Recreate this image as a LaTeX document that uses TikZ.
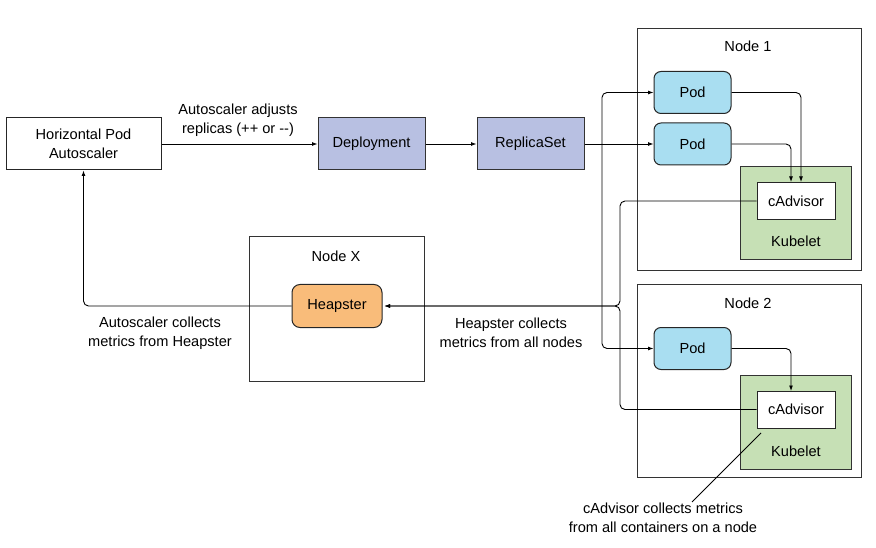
\documentclass[tikz,border=0pt]{standalone}
\usepackage{fontspec}
\setmainfont{Liberation Sans}
\usetikzlibrary{arrows.meta}
\definecolor{deplc}{HTML}{B8C0E2}
\definecolor{podc}{HTML}{A9DEF1}
\definecolor{heapc}{HTML}{F9BC7A}
\definecolor{kubec}{HTML}{C6E0B5}
\definecolor{edgec}{HTML}{333333}
\begin{document}
\begin{tikzpicture}[x=1pt,y=-1pt,
  every node/.style={font=\fontsize{14.6}{18.5}\selectfont, align=center, inner sep=0pt},
  frame/.style={draw=black!80, line width=1pt},
  podbox/.style={draw=black!85, line width=1pt, fill=podc, rounded corners=7pt, minimum width=77pt, minimum height=42pt},
  conn/.style={line width=0.9pt, rounded corners=5pt},
  arr/.style={conn, -{Latex[length=5.5pt,width=4pt]}}
]
\useasboundingbox (0,0) rectangle (876,548);
% containers
\draw[frame] (637,29) rectangle (861,271);
\draw[frame] (637,285) rectangle (861,477);
\draw[frame] (249,237) rectangle (424,381);
\node (n1) at (748,46) {Node 1};
\node (n2) at (748,303) {Node 2};
\node (nx) at (336,256) {Node X};
% kubelets
\draw[draw=black!80, line width=1pt, fill=kubec] (740,167) rectangle (851,260);
\draw[draw=black!80, line width=1pt, fill=kubec] (740,375) rectangle (851,469);
\node (k1) at (796,241) {Kubelet};
\node (k2) at (796,451) {Kubelet};
\node[draw=black!85, line width=1pt, fill=white, minimum width=78pt, minimum height=37pt] (ca1) at (796,201) {cAdvisor};
\node[draw=black!85, line width=1pt, fill=white, minimum width=78pt, minimum height=37pt] (ca2) at (796,409.5) {cAdvisor};
% main boxes
\node[draw=black!85, line width=1pt, fill=white, minimum width=155pt, minimum height=52pt] (hpa) at (83.5,144) {Horizontal Pod\\Autoscaler};
\node[draw=edgec, line width=1pt, fill=deplc, minimum width=107pt, minimum height=52pt] (dep) at (371.5,144) {Deployment};
\node[draw=edgec, line width=1pt, fill=deplc, minimum width=107pt, minimum height=52pt] (rs) at (530.5,144) {ReplicaSet};
\node[podbox] (p1) at (692.5,92.5) {Pod};
\node[podbox] (p2) at (692.5,144) {Pod};
\node[podbox] (p3) at (692.5,348.5) {Pod};
\node[draw=black!85, line width=1pt, fill=heapc, rounded corners=8pt, minimum width=90pt, minimum height=43pt] (hp) at (337,306) {Heapster};
% labels
\node (l1) at (238,120) {Autoscaler adjusts\\replicas (++ or {-}{-})};
\node (l2) at (160,333) {Autoscaler collects\\metrics from Heapster};
\node (l3) at (511,333) {Heapster collects\\metrics from all nodes};
\node (l4) at (663,518) {cAdvisor collects metrics\\from all containers on a node};
% coordinates
\coordinate (b) at (602,144);
\coordinate (j) at (620,306);
\coordinate (ptr) at (761,433);
\coordinate (ptrend) at (692,502);
% connectors
\draw[arr] (hpa.east) -- (dep.west);
\draw[arr] (dep.east) -- (rs.west);
\draw[arr] (rs.east) -- (p2.west);
\draw[arr] (b) |- (p1.west);
\draw[arr] (b) |- (p3.west);
\draw[arr] (p1.east) -| (801,182);
\draw[arr] (p2.east) -| (791,182);
\draw[arr] (p3.east) -| (791,391);
\draw[arr] (ca1.west) -| (j) -- ([xshift=2pt]hp.east);
\draw[arr] (ca2.west) -| (j) -- ([xshift=2pt]hp.east);
\draw[arr] (hp.west) -| (hpa.south);
\draw[line width=0.8pt] (ptr) -- (ptrend);
\end{tikzpicture}
\end{document}
